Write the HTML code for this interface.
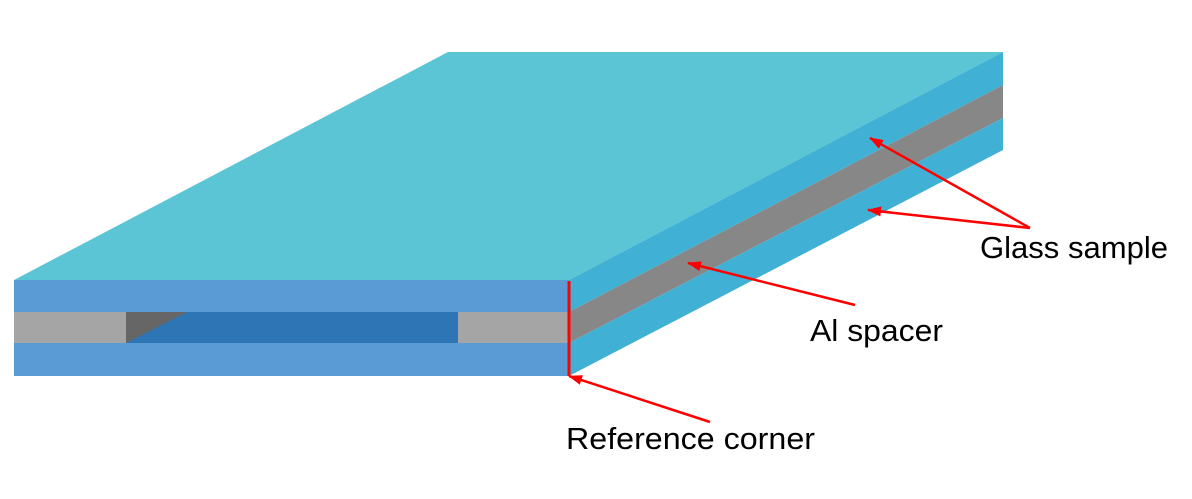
<!DOCTYPE html>
<html><head><meta charset="utf-8"><style>
html,body{margin:0;padding:0;background:#fff;}
svg{display:block;}
text{font-family:"Liberation Sans",sans-serif;font-size:31px;fill:#000;}
</style></head><body>
<svg width="1192" height="499" viewBox="0 0 1192 499">
<defs><marker id="ah" markerWidth="14" markerHeight="10" refX="13" refY="5" orient="auto" markerUnits="userSpaceOnUse"><path d="M0,0 L14,5 L0,10 z" fill="#ff0000"/></marker></defs>
<polygon points="14,280 448,52 1003,52 569,280" fill="#5bc4d5"/>
<polygon points="569,280 1003,52 1003,85 569,312" fill="#41b0d5"/>
<polygon points="569,312 1003,85 1003,118 569,343" fill="#878787"/>
<polygon points="569,343 1003,118 1003,150 569,376" fill="#41b0d5"/>
<rect x="14" y="280" width="555" height="32" fill="#5b9bd5"/>
<rect x="14" y="343" width="555" height="33" fill="#5b9bd5"/>
<rect x="14" y="312" width="112" height="31" fill="#a5a5a5"/>
<rect x="126" y="312" width="332" height="31" fill="#2e75b6"/>
<polygon points="126,312 187,312 126,343" fill="#666"/>
<rect x="458" y="312" width="111" height="31" fill="#a5a5a5"/>
<line x1="569" y1="281" x2="569" y2="376" stroke="#ff0000" stroke-width="3"/>
<g stroke="#ff0000" stroke-width="2.5" fill="none">
<line x1="1030" y1="228" x2="870" y2="138" marker-end="url(#ah)"/>
<line x1="1030" y1="228" x2="868" y2="210" marker-end="url(#ah)"/>
<line x1="855" y1="305" x2="688" y2="263" marker-end="url(#ah)"/>
<line x1="710" y1="422" x2="569" y2="376" marker-end="url(#ah)"/>
</g>
<text x="980" y="258" textLength="188" lengthAdjust="spacingAndGlyphs">Glass sample</text>
<text x="810" y="341" textLength="133" lengthAdjust="spacingAndGlyphs">Al spacer</text>
<text x="566" y="449" textLength="249" lengthAdjust="spacingAndGlyphs">Reference corner</text>
</svg>
</body></html>
